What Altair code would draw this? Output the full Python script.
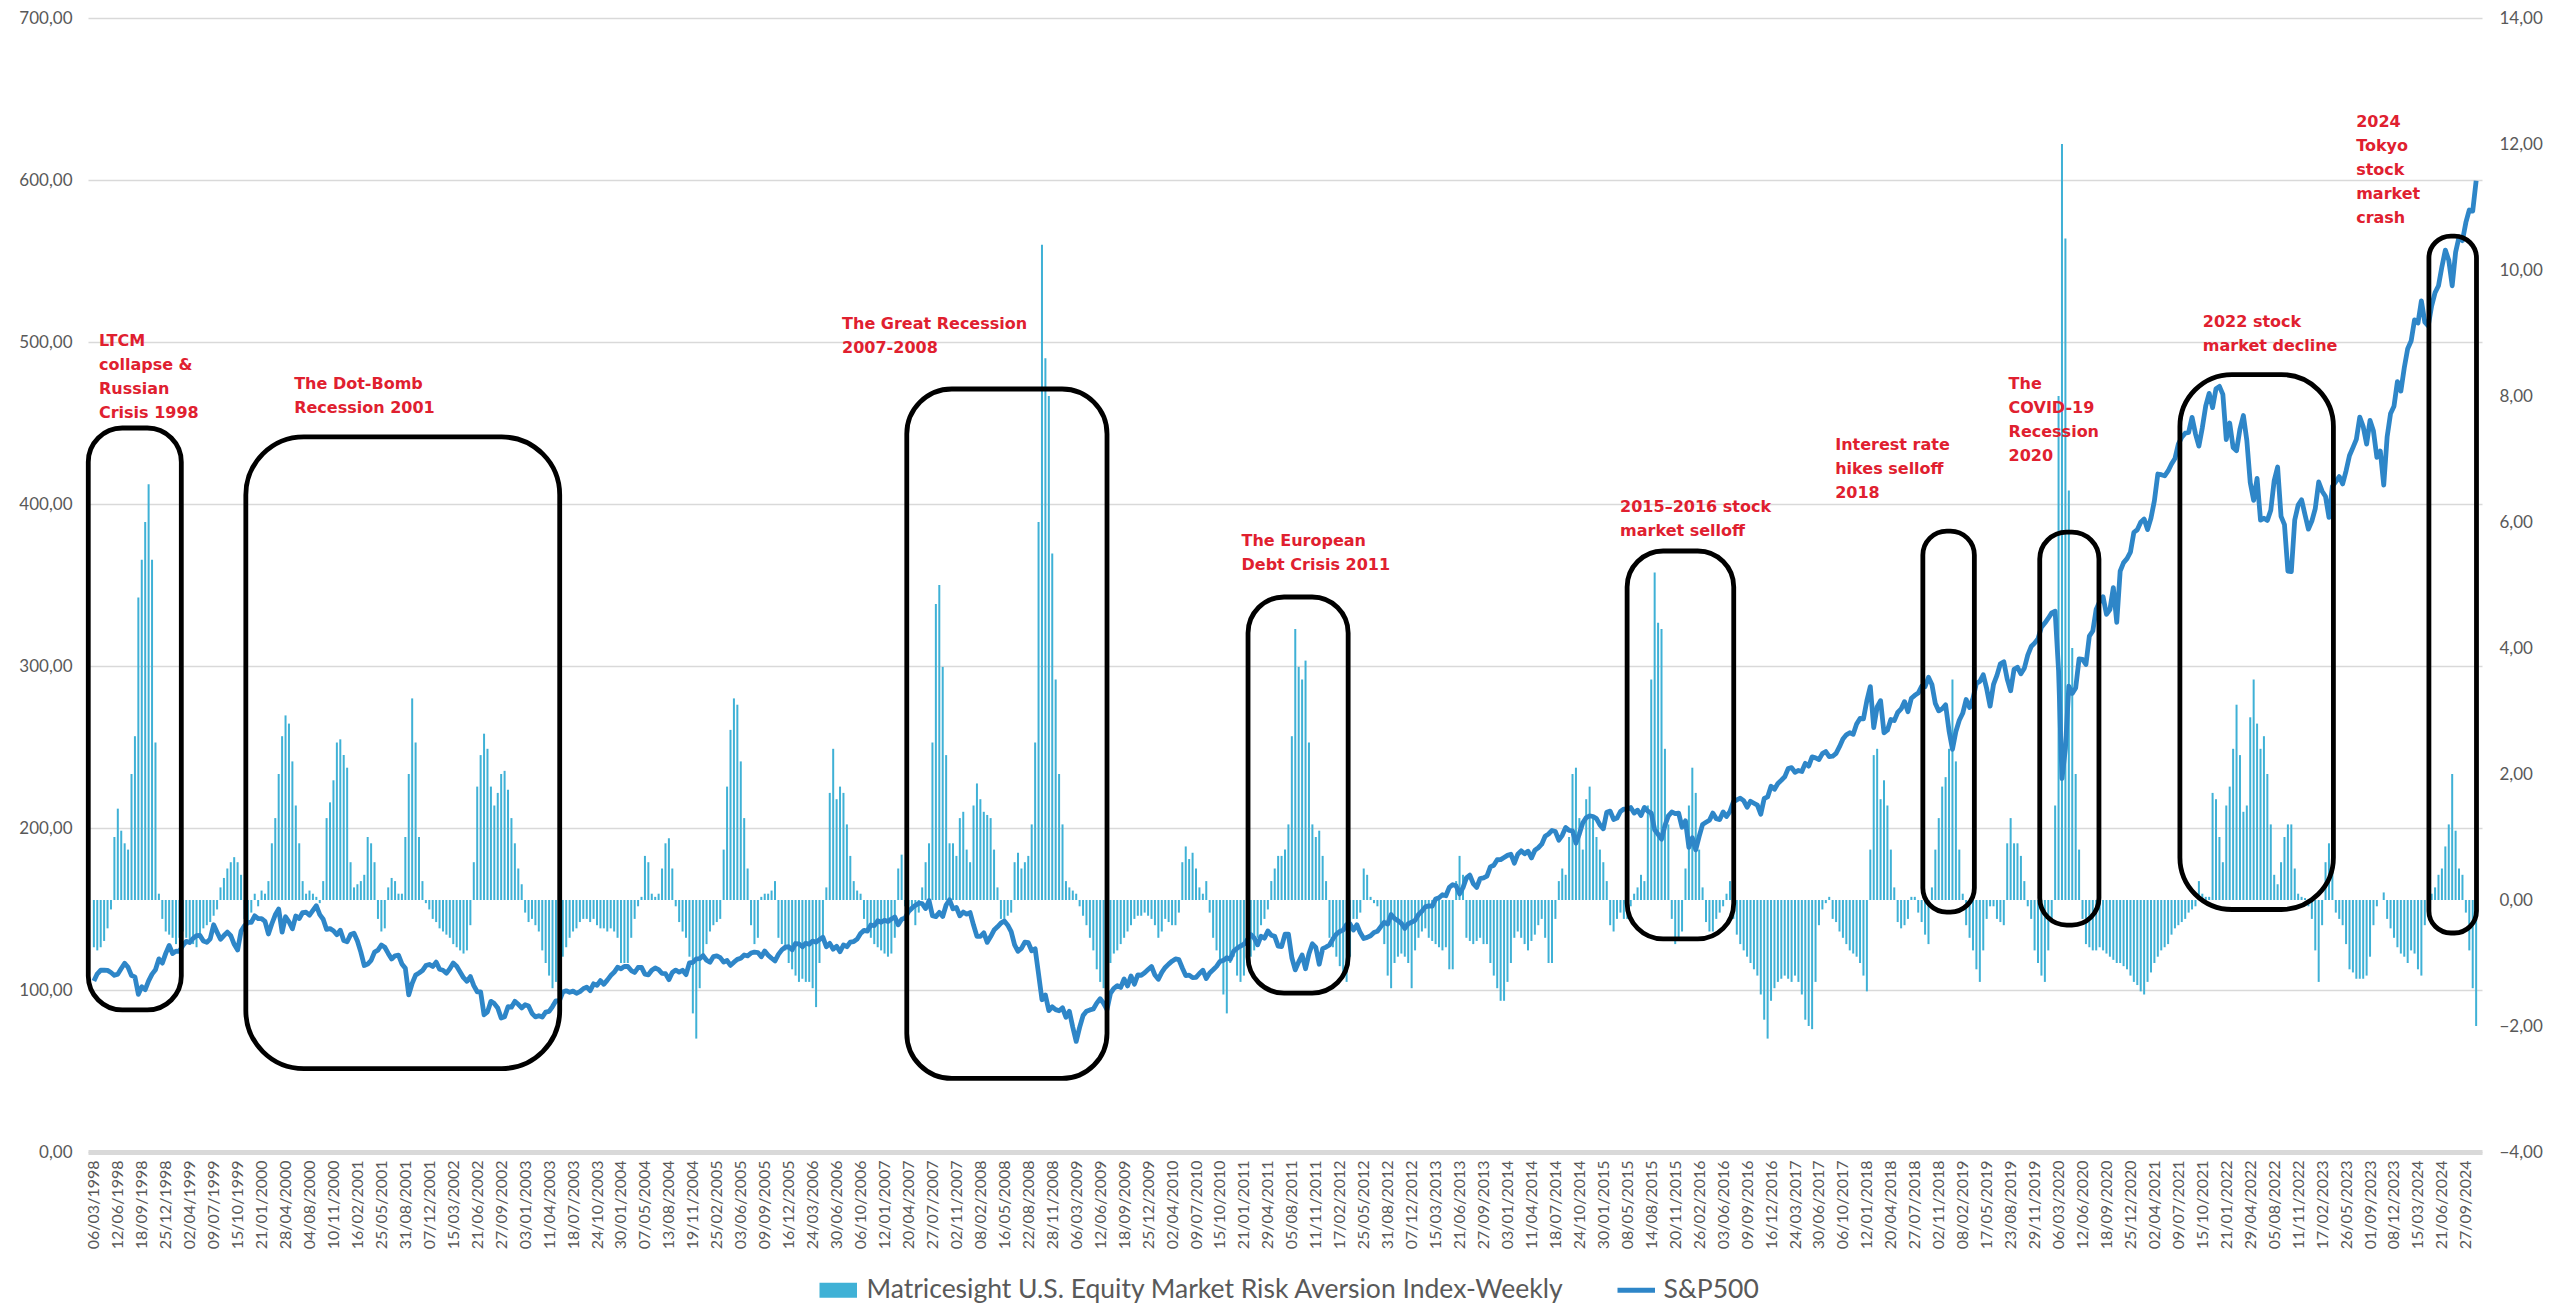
import altair as alt
import pandas as pd

# ---------------- data ----------------
RISK_NAME = "Matricesight U.S. Equity Market Risk Aversion Index-Weekly"
SPX_NAME = "S&P500"
FIRST_DATE = "1998-03-06"      # first observation (every 14 days)
STEP_DAYS = 14
LAST_TICK = "2024-09-27"       # last category label
TICK_STEP_DAYS = 98            # one label every 14 weeks

# S&P500 (scaled /10, left axis), one value every two weeks
spx_1998 = [105.5, 110.0, 112.2, 112.2, 112.1, 110.8, 109.1, 109.8, 113.3, 116.5, 114.0, 108.9, 108.1, 97.3, 102.0, 100.2, 105.6, 109.8, 112.5, 119.2, 116.6, 122.6]
spx_1999 = [127.5, 122.5, 124.0, 123.9, 127.5, 130.0, 129.3, 131.9, 133.5, 133.7, 130.2, 129.4, 131.6, 140.3, 135.7, 131.3, 133.6, 135.7, 133.5, 128.2, 124.7, 136.2, 139.7, 141.7, 141.7, 145.8]
spx_2000 = [144.1, 144.1, 142.4, 134.6, 140.9, 146.4, 150.0, 135.7, 145.2, 142.1, 137.8, 145.7, 144.1, 147.8, 148.0, 146.2, 149.1, 152.0, 146.5, 143.7, 137.4, 137.9, 136.6, 134.1, 136.9, 130.6]
spx_2001 = [129.8, 134.2, 135.0, 130.2, 123.4, 115.1, 116.0, 118.3, 123.4, 124.6, 127.8, 126.4, 122.6, 119.1, 121.1, 121.5, 116.1, 113.4, 97.0, 104.1, 109.2, 110.5, 112.0, 115.1, 115.8, 114.5]
spx_2002 = [117.2, 112.8, 112.2, 110.4, 113.1, 116.6, 114.7, 111.1, 107.6, 105.4, 108.3, 102.7, 98.9, 98.9, 84.7, 86.5, 93.0, 91.6, 88.9, 82.7, 83.5, 89.7, 89.4, 93.0, 91.2, 88.9]
spx_2003 = [90.9, 90.1, 85.6, 83.4, 84.1, 83.3, 86.3, 86.8, 89.8, 93.3, 93.3, 98.7, 99.5, 98.6, 99.3, 98.0, 99.0, 100.8, 101.8, 99.6, 103.8, 102.9, 105.8, 103.5, 106.1, 108.9]
spx_2004 = [110.9, 114.0, 113.1, 114.6, 114.5, 112.0, 110.8, 113.9, 114.0, 109.8, 109.4, 112.2, 113.6, 112.6, 110.2, 110.1, 106.4, 110.8, 112.3, 111.0, 112.2, 109.5, 116.7, 117.0, 119.2, 119.4, 121.2]
spx_2005 = [118.4, 117.1, 120.6, 121.1, 120.0, 117.2, 118.2, 115.2, 117.2, 118.9, 119.6, 121.6, 121.1, 122.8, 123.4, 123.1, 120.5, 124.1, 121.5, 119.6, 117.9, 122.0, 124.8, 126.5, 126.7, 124.8]
spx_2006 = [128.7, 128.4, 126.7, 128.9, 128.2, 130.2, 129.5, 131.1, 132.5, 126.7, 128.8, 125.2, 127.0, 123.6, 127.8, 126.7, 129.6, 129.9, 131.4, 134.9, 136.8, 136.4, 140.1, 139.7, 142.7, 141.8]
spx_2007 = [143.1, 142.3, 143.8, 145.1, 140.2, 143.7, 144.4, 148.4, 150.5, 152.2, 153.6, 153.3, 150.3, 155.2, 145.9, 145.3, 147.9, 145.4, 152.5, 155.7, 150.1, 150.9, 145.8, 148.1, 146.8, 147.8]
spx_2008 = [140.1, 133.1, 133.1, 135.3, 129.4, 133.0, 137.0, 139.0, 141.3, 142.6, 140.0, 136.0, 127.8, 123.9, 125.7, 129.6, 129.2, 124.2, 125.5, 109.9, 94.0, 96.9, 87.3, 89.6, 87.9, 87.2]
spx_2009 = [89.0, 83.2, 86.9, 77.0, 68.3, 76.9, 84.2, 86.9, 87.7, 88.3, 91.9, 94.6, 91.8, 87.9, 97.9, 101.0, 102.6, 101.6, 106.8, 102.5, 108.7, 103.6, 109.3, 109.1, 110.6, 112.6]
spx_2010 = [114.5, 109.2, 106.6, 110.9, 113.9, 116.0, 117.8, 119.2, 118.7, 113.6, 108.9, 109.2, 107.6, 107.8, 110.2, 112.2, 107.1, 110.5, 112.5, 114.6, 117.6, 118.3, 119.9, 119.0, 124.0, 125.7]
spx_2011 = [127.1, 128.3, 131.0, 134.3, 132.1, 127.9, 133.2, 132.0, 136.4, 133.8, 133.1, 127.1, 126.8, 134.4, 134.5, 119.9, 112.4, 117.4, 121.6, 113.1, 122.4, 128.5, 126.3, 115.9, 125.5, 126.5]
spx_2012 = [127.8, 131.5, 134.5, 136.1, 137.0, 140.4, 140.8, 137.0, 140.3, 135.3, 131.8, 132.5, 133.5, 135.5, 136.3, 139.1, 141.8, 140.7, 146.6, 144.1, 142.8, 141.1, 138.0, 140.9, 141.8, 143.0]
spx_2013 = [146.6, 148.6, 151.3, 151.9, 151.8, 156.1, 156.9, 158.8, 158.2, 163.3, 165.0, 164.3, 159.3, 163.2, 169.2, 170.9, 165.6, 163.3, 168.8, 169.2, 170.3, 176.0, 177.0, 180.4, 180.5, 181.8]
spx_2014 = [183.1, 183.8, 178.3, 183.8, 185.9, 184.1, 185.7, 181.5, 186.3, 187.8, 190.0, 194.9, 196.3, 198.5, 197.8, 192.5, 195.5, 200.3, 198.5, 198.2, 190.6, 196.4, 203.2, 206.4, 207.5, 207.1]
spx_2015 = [205.8, 201.9, 199.5, 209.7, 210.4, 205.3, 206.1, 210.2, 211.7, 211.6, 212.6, 209.2, 211.0, 207.7, 212.7, 210.4, 209.2, 198.9, 196.1, 193.1, 201.5, 207.5, 209.9, 208.9, 209.2, 200.5]
spx_2016 = [204.4, 188.0, 194.0, 186.5, 194.8, 202.2, 203.5, 204.8, 209.2, 205.7, 205.2, 209.9, 207.1, 210.3, 216.2, 217.4, 218.4, 216.9, 212.8, 216.5, 215.3, 214.1, 208.5, 218.2, 219.2, 225.8, 223.9]
spx_2017 = [227.5, 229.5, 231.6, 236.7, 237.3, 234.4, 235.5, 234.9, 239.9, 238.2, 243.9, 243.3, 242.3, 245.9, 247.2, 244.1, 244.3, 246.1, 250.2, 254.9, 257.5, 258.8, 257.9, 264.2, 267.6, 267.4]
spx_2018 = [278.6, 287.3, 262.0, 274.7, 278.6, 258.8, 260.4, 267.0, 266.3, 271.3, 273.5, 278.0, 271.8, 280.1, 281.9, 283.3, 287.5, 287.2, 293.0, 288.6, 276.8, 272.3, 273.6, 276.0, 260.0, 248.6]
spx_2019 = [259.6, 266.5, 270.8, 279.3, 274.3, 280.1, 289.3, 290.5, 294.6, 286.0, 275.2, 288.7, 294.2, 301.4, 302.6, 291.9, 284.7, 297.9, 299.2, 295.2, 298.6, 306.7, 312.0, 314.1, 316.9, 324.0]
spx_2020 = [326.5, 329.5, 332.8, 333.8, 297.2, 230.5, 248.9, 287.5, 283.1, 286.4, 304.4, 304.1, 300.9, 318.5, 321.6, 335.1, 339.7, 342.7, 331.9, 334.8, 348.4, 327.0, 358.5, 363.8, 366.3, 370.3]
spx_2021 = [382.5, 384.1, 388.7, 390.7, 384.2, 391.3, 402.0, 418.5, 418.1, 417.4, 420.4, 424.7, 428.1, 437.0, 441.2, 443.7, 444.2, 453.5, 443.3, 435.7, 447.1, 460.5, 468.3, 459.5, 471.2, 472.6]
spx_2022 = [467.7, 439.8, 450.0, 434.9, 432.9, 446.3, 454.6, 439.3, 413.2, 402.3, 415.8, 390.1, 391.2, 389.9, 396.2, 414.5, 422.8, 392.4, 387.3, 358.6, 358.3, 390.1, 399.3, 402.6, 393.4, 384.5]
spx_2023 = [389.5, 397.2, 413.6, 407.9, 404.6, 391.7, 410.9, 413.8, 416.9, 412.4, 420.5, 429.9, 434.8, 439.9, 453.6, 447.8, 437.0, 451.6, 445.0, 428.8, 432.7, 411.7, 441.5, 455.9, 460.4, 475.5]
spx_2024 = [469.7, 484.0, 495.9, 500.6, 513.7, 511.7, 525.4, 512.3, 510.0, 522.3, 530.5, 534.7, 546.5, 556.7, 550.5, 534.7, 555.4, 564.8, 562.6, 573.8, 581.5, 580.8, 599.6]

# Risk aversion index (right axis), one value every two weeks
risk_1998 = [-0.75, -0.8, -0.75, -0.65, -0.45, -0.15, 1.0, 1.45, 1.1, 0.9, 0.8, 2.0, 2.6, 4.8, 5.4, 6.0, 6.6, 5.4, 2.5, 0.1, -0.3, -0.5]
risk_1999 = [-0.55, -0.6, -0.7, -0.6, -0.5, -0.6, -0.7, -0.7, -0.75, -0.6, -0.45, -0.4, -0.35, -0.25, -0.15, 0.2, 0.35, 0.5, 0.6, 0.68, 0.6, 0.4, -0.3, -0.4, -0.2, 0.1]
risk_2000 = [-0.1, 0.15, 0.1, 0.3, 0.9, 1.3, 2.0, 2.6, 2.93, 2.8, 2.2, 1.5, 0.9, 0.3, 0.1, 0.15, 0.1, 0.05, -0.05, 0.3, 1.3, 1.55, 1.9, 2.5, 2.55, 2.3]
risk_2001 = [2.1, 0.6, 0.2, 0.25, 0.3, 0.4, 1.0, 0.9, 0.6, -0.3, -0.5, -0.45, 0.2, 0.35, 0.3, 0.1, 0.1, 1.0, 2.0, 3.2, 2.5, 1.0, 0.3, -0.05, -0.15, -0.3]
risk_2002 = [-0.35, -0.45, -0.5, -0.55, -0.6, -0.7, -0.75, -0.8, -0.85, -0.8, -0.4, 0.6, 1.8, 2.3, 2.64, 2.4, 1.8, 1.5, 1.7, 2.0, 2.05, 1.75, 1.3, 0.9, 0.5, 0.25]
risk_2003 = [-0.2, -0.35, -0.3, -0.4, -0.5, -0.8, -1.0, -1.2, -1.4, -1.3, -1.0, -0.9, -0.75, -0.6, -0.5, -0.45, -0.35, -0.3, -0.3, -0.35, -0.3, -0.4, -0.45, -0.45, -0.5, -0.45]
risk_2004 = [-0.5, -0.6, -1.0, -1.0, -1.0, -0.6, -0.3, -0.1, 0.05, 0.7, 0.6, 0.1, 0.05, 0.1, 0.5, 0.9, 0.98, 0.5, -0.1, -0.35, -0.5, -0.6, -0.9, -1.8, -2.2, -1.4, -0.9]
risk_2005 = [-0.7, -0.5, -0.4, -0.35, -0.3, 0.8, 1.8, 2.7, 3.2, 3.1, 2.2, 1.3, 0.5, -0.4, -0.7, -0.6, 0.05, 0.1, 0.1, 0.15, 0.3, -0.6, -0.7, -0.8, -1.0, -1.1]
risk_2006 = [-1.2, -1.3, -1.25, -1.3, -1.3, -1.4, -1.7, -1.0, -0.6, 0.2, 1.7, 2.4, 1.6, 1.8, 1.7, 1.2, 0.7, 0.3, 0.15, 0.1, -0.3, -0.5, -0.6, -0.7, -0.75, -0.8]
risk_2007 = [-0.85, -0.9, -0.85, -0.6, 0.5, 0.72, -0.1, -0.2, -0.15, -0.4, -0.2, 0.2, 0.6, 0.9, 2.5, 4.7, 5.0, 3.7, 2.3, 0.9, 0.9, 0.7, 1.3, 1.4, 0.8, 0.6]
risk_2008 = [1.5, 1.85, 1.6, 1.4, 1.35, 1.3, 0.8, 0.2, -0.3, -0.3, -0.25, -0.2, 0.6, 0.75, 0.5, 0.6, 0.7, 1.2, 2.5, 6.0, 10.4, 8.6, 8.0, 5.5, 3.5, 2.0]
risk_2009 = [1.2, 0.3, 0.2, 0.15, 0.1, -0.1, -0.25, -0.4, -0.6, -0.8, -1.1, -1.3, -1.4, -1.1, -1.0, -0.85, -0.8, -0.7, -0.6, -0.5, -0.4, -0.3, -0.25, -0.25, -0.2, -0.25]
risk_2010 = [-0.3, -0.4, -0.6, -0.5, -0.3, -0.35, -0.4, -0.4, -0.2, 0.6, 0.85, 0.65, 0.75, 0.5, 0.2, 0.1, 0.3, -0.2, -0.6, -0.8, -1.0, -1.5, -1.8, -1.0, -0.9, -1.2]
risk_2011 = [-1.3, -1.2, -1.0, -0.9, -0.8, -0.6, -0.4, -0.3, -0.15, 0.3, 0.5, 0.7, 0.7, 0.8, 1.2, 2.6, 4.3, 3.7, 3.5, 3.8, 2.5, 1.2, 1.0, 1.1, 0.7, 0.3]
risk_2012 = [-0.6, -0.75, -0.9, -1.05, -1.2, -1.3, -0.9, -0.3, -0.3, -0.2, 0.5, 0.4, 0.05, -0.05, -0.1, -0.4, -0.7, -1.2, -1.4, -1.0, -0.9, -0.85, -0.9, -1.0, -1.4, -0.8]
risk_2013 = [-0.6, -0.5, -0.45, -0.6, -0.65, -0.7, -0.75, -0.8, -0.75, -1.1, -1.1, 0.3, 0.7, 0.4, -0.6, -0.65, -0.7, -0.65, -0.6, -0.7, -0.7, -1.0, -1.2, -1.4, -1.6, -1.6]
risk_2014 = [-1.3, -1.0, -0.6, -0.5, -0.6, -0.7, -0.8, -0.65, -0.55, -0.4, -0.3, -0.6, -1.0, -1.0, -0.3, 0.3, 0.5, 0.4, 1.0, 2.0, 2.1, 1.3, 0.8, 1.6, 1.8, 1.3]
risk_2015 = [1.0, 0.8, 0.6, 0.3, -0.4, -0.5, -0.3, -0.2, -0.3, -0.3, -0.1, 0.1, 0.2, 0.4, 0.3, 1.5, 3.5, 5.2, 4.4, 4.3, 2.4, 1.2, -0.3, -0.7, -0.6, -0.5]
risk_2016 = [0.5, 1.5, 2.1, 1.7, 0.8, 0.2, -0.35, -0.5, -0.5, -0.3, -0.2, -0.1, 0.1, 0.3, -0.3, -0.55, -0.7, -0.8, -0.9, -1.0, -1.1, -1.2, -1.5, -1.9, -2.2, -1.6, -1.4]
risk_2017 = [-1.3, -1.25, -1.2, -1.25, -1.3, -1.2, -1.3, -1.5, -1.9, -2.0, -2.05, -1.3, -0.4, -0.15, -0.05, 0.05, -0.3, -0.35, -0.5, -0.6, -0.7, -0.8, -0.85, -0.9, -1.0, -1.2]
risk_2018 = [-1.45, 0.8, 2.3, 2.4, 1.6, 1.9, 1.5, 0.8, 0.2, -0.35, -0.45, -0.4, -0.3, 0.05, 0.05, -0.2, -0.35, -0.55, -0.7, 0.2, 0.8, 1.3, 1.8, 1.95, 2.4, 3.5]
risk_2019 = [2.2, 0.8, 0.1, -0.4, -0.6, -0.8, -1.1, -1.3, -0.8, -0.3, -0.1, -0.1, -0.3, -0.35, -0.4, 0.9, 1.3, 0.9, 0.9, 0.7, 0.3, -0.1, -0.3, -0.8, -1.0, -1.2]
risk_2020 = [-1.3, -0.8, -0.3, 1.5, 8.0, 12.0, 10.5, 6.5, 4.0, 2.0, 0.8, -0.3, -0.7, -0.75, -0.8, -0.8, -0.75, -0.8, -0.85, -0.9, -0.95, -1.0, -1.0, -1.05, -1.1, -1.2]
risk_2021 = [-1.3, -1.35, -1.45, -1.5, -1.3, -1.15, -1.0, -0.9, -0.8, -0.75, -0.7, -0.55, -0.45, -0.4, -0.35, -0.3, -0.2, -0.15, -0.1, 0.3, 0.1, 0.05, 0.05, 1.7, 1.6, 1.0]
risk_2022 = [0.6, 1.5, 1.8, 2.4, 3.1, 2.3, 1.4, 1.5, 2.9, 3.5, 2.8, 2.4, 2.6, 2.0, 1.2, 0.4, 0.25, 0.6, 1.0, 1.2, 1.2, 0.5, 0.1, 0.05, 0.03, -0.1]
risk_2023 = [-0.3, -0.8, -1.3, -0.4, 0.6, 0.9, 0.5, -0.2, -0.3, -0.4, -0.7, -1.1, -1.15, -1.25, -1.25, -1.25, -1.2, -0.9, -0.4, -0.1, 0.0, 0.12, -0.3, -0.45, -0.6, -0.75]
risk_2024 = [-0.85, -0.9, -1.0, -0.8, -0.85, -1.1, -1.2, -0.4, -0.1, 0.1, 0.2, 0.4, 0.5, 0.85, 1.2, 2.0, 1.1, 0.5, 0.4, -0.2, -0.8, -1.4, -2.0]

# Annotations (text, anchor in weeks after FIRST_DATE, level on the left axis)
ANN_TEXT = [
    "LTCM\ncollapse &\nRussian\nCrisis 1998",
    "The Dot-Bomb\nRecession 2001",
    "The Great Recession\n2007-2008",
    "The European\nDebt Crisis 2011",
    "2015\u20132016 stock\nmarket selloff",
    "Interest rate\nhikes selloff\n2018",
    "The\nCOVID-19\nRecession\n2020",
    "2022 stock\nmarket decline",
    "2024\nTokyo\nstock\nmarket\ncrash",
]
ANN_WEEK = [2.97, 117.05, 437.2, 670.6, 891.8, 1017.5, 1118.8, 1232.3, 1321.9]
ANN_LEVEL = [497.4, 470.9, 507.9, 374.0, 395.0, 433.2, 470.9, 509.2, 632.6]

# Highlight boxes (weeks after FIRST_DATE, left-axis levels, corner radius)
BOX_W1 = [-3.26, 88.8, 475.0, 674.4, 895.9, 1068.7, 1137.0, 1218.9, 1364.4]
BOX_W2 = [51.1, 272.2, 592.0, 732.9, 958.2, 1098.8, 1171.6, 1308.6, 1392.2]
BOX_TOP = [446.9, 441.4, 471.0, 342.6, 371.0, 383.3, 382.7, 479.9, 565.4]
BOX_BOTTOM = [87.7, 51.5, 45.4, 98.1, 131.5, 148.1, 140.1, 149.7, 135.2]
BOX_RADIUS = [34, 58, 45, 36, 36, 24, 27, 52, 22]

# ---------------- build tables ----------------
SPX = []
RISK = []
for y in range(1998, 2025):
    SPX += globals()[f"spx_{y}"]
    RISK += globals()[f"risk_{y}"]
assert len(SPX) == len(RISK)

dates = pd.date_range(FIRST_DATE, periods=len(SPX), freq=f"{STEP_DAYS}D")
df = pd.DataFrame({"date": dates.strftime("%Y-%m-%d"), "spx": SPX, "risk": RISK})
df["s_risk"] = RISK_NAME
df["s_spx"] = SPX_NAME

t0 = pd.Timestamp(FIRST_DATE)


def week_to_iso(w):
    return (t0 + pd.Timedelta(days=7 * w)).strftime("%Y-%m-%dT%H:%M:%SZ")


ann_df = pd.DataFrame({
    "date": [week_to_iso(w) for w in ANN_WEEK],
    "lvl": ANN_LEVEL,
    "txt": ANN_TEXT,
})

tick_dates = pd.date_range(FIRST_DATE, LAST_TICK, freq=f"{TICK_STEP_DAYS}D")
TICK_VALUES = [alt.DateTime(year=int(d.year), month=int(d.month), date=int(d.day), utc=True)
               for d in tick_dates]

# ---------------- styling ----------------
BAR_COLOR = "#3FB1D6"
LINE_COLOR = "#2E86C8"
GRID = "#D9D9D9"
LABEL = "#595959"
RED = "#E0202F"
FONT = "Lato"
NUM_EXPR = "replace(format(datum.value, '.2f'), '.', ',')"

x_scale = alt.Scale(
    type="utc",
    domain=[alt.DateTime(year=1998, month=3, date=2, hours=12, utc=True),
            alt.DateTime(year=2024, month=11, date=11, hours=12, utc=True)],
)
left_scale = alt.Scale(domain=[0, 700], nice=False, zero=False)
right_scale = alt.Scale(domain=[-4, 14], nice=False)

x_axis = alt.Axis(
    values=TICK_VALUES, format="%d/%m/%Y", labelAngle=-90, ticks=False, grid=False,
    domainColor=GRID, domainWidth=5, labelColor=LABEL, labelFont=FONT, labelFontSize=16,
    labelPadding=8, labelOverlap=False, labelFlush=False, title=None,
)
left_axis = alt.Axis(
    orient="left", values=list(range(0, 701, 100)), labelExpr=NUM_EXPR, grid=True,
    gridColor=GRID, gridWidth=1.5, domain=False, ticks=False, labelColor=LABEL,
    labelFont=FONT, labelFontSize=17, labelPadding=16, minExtent=70, maxExtent=70, title=None,
)
right_axis = alt.Axis(
    orient="right", values=list(range(-4, 15, 2)), labelExpr=NUM_EXPR, grid=False,
    domain=False, ticks=False, labelColor=LABEL, labelFont=FONT, labelFontSize=17,
    labelPadding=17, minExtent=58, maxExtent=58, title=None,
)

X = alt.X("date:T", scale=x_scale, axis=x_axis)

bars = alt.Chart(df).mark_bar(width=2).encode(
    x=X,
    y=alt.Y("risk:Q", scale=right_scale, axis=right_axis),
    color=alt.Color(
        "s_risk:N",
        scale=alt.Scale(domain=[RISK_NAME], range=[BAR_COLOR]),
        legend=alt.Legend(
            orient="none", legendX=737, legendY=1259, title=None,
            symbolType="M-2.5,-1L2.5,-1L2.5,1L-2.5,1Z", symbolSize=225,
            symbolStrokeWidth=0, labelFont=FONT, labelFontSize=26.5, labelColor=LABEL,
            labelOffset=15, labelLimit=2000,
        ),
    ),
)

line = alt.Chart(df).mark_line(strokeWidth=4.8, strokeJoin="round").encode(
    x=X,
    y=alt.Y("spx:Q", scale=left_scale, axis=left_axis),
    color=alt.Color(
        "s_spx:N",
        scale=alt.Scale(domain=[SPX_NAME], range=[LINE_COLOR]),
        legend=alt.Legend(
            orient="none", legendX=1535, legendY=1259, title=None,
            symbolType="M-2.5,0L2.5,0", symbolSize=225, symbolStrokeWidth=5,
            labelFont=FONT, labelFontSize=26.5, labelColor=LABEL, labelOffset=14,
            labelLimit=2000,
        ),
    ),
)

box_layers = []
for i in range(len(BOX_W1)):
    bdf = pd.DataFrame({
        "date": [week_to_iso(BOX_W1[i])], "x2": [week_to_iso(BOX_W2[i])],
        "y1": [BOX_TOP[i]], "y2": [BOX_BOTTOM[i]],
    })
    box_layers.append(
        alt.Chart(bdf).mark_rect(
            fillOpacity=0, stroke="black", strokeWidth=4.8, cornerRadius=BOX_RADIUS[i]
        ).encode(
            x=X,
            x2="x2:T",
            y=alt.Y("y1:Q", scale=left_scale, axis=None),
            y2="y2:Q",
        )
    )

texts = alt.Chart(ann_df).mark_text(
    align="left", baseline="alphabetic", font="DejaVu Sans", fontWeight="bold",
    fontSize=16, color=RED, lineBreak="\n", lineHeight=24,
).encode(
    x=X,
    y=alt.Y("lvl:Q", scale=left_scale, axis=None),
    text="txt:N",
)

chart = alt.layer(bars, line, *box_layers, texts).resolve_scale(
    y="independent", color="independent"
).properties(
    width=2394, height=1134,
    padding={"left": 10, "top": 1, "right": 0, "bottom": 0},
).configure_view(strokeWidth=0)

chart.save("out.html", embed_options={"renderer": "svg", "actions": False})
